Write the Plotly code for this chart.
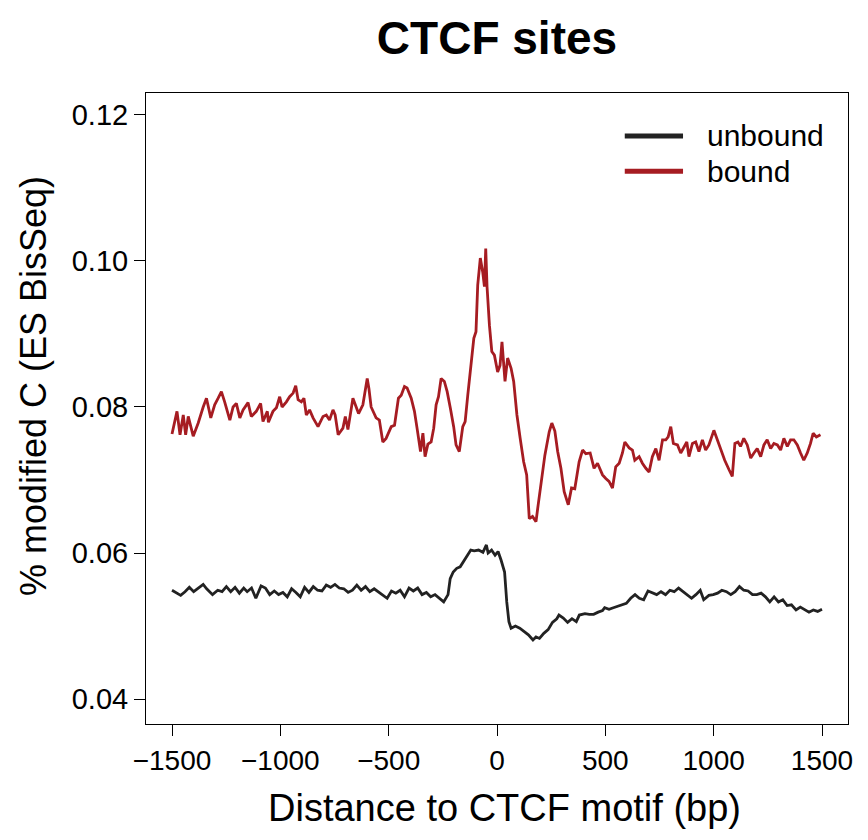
import plotly.graph_objects as go

# ---- data ----
bound_x = [-1500, -1477, -1463, -1448, -1437, -1425, -1402, -1379, -1356, -1341, -1321, -1303, -1287, -1272,
           -1257, -1233, -1218, -1203, -1187, -1172, -1149, -1134, -1111, -1091, -1080, -1060, -1055, -1034,
           -1018, -1003, -992, -972, -957, -941, -929, -918, -903, -891, -880, -865, -849, -826, -803, -788,
           -773, -757, -747, -733, -711, -700, -688, -665, -650, -639, -619, -599, -591, -581, -558, -543,
           -527, -512, -488, -473, -455, -442, -427, -415, -396, -381, -369, -353, -342, -332, -319, -304,
           -292, -281, -270, -258, -243, -230, -215, -200, -189, -174, -158, -147, -135, -123, -107, -97,
           -89, -77, -66, -58, -52, -46, -35, -24, -12, 3, 14, 23, 37, 49, 65, 77, 92, 107, 123, 137, 149,
           164, 180, 190, 206, 221, 241, 253, 267, 280, 295, 310, 329, 344, 359, 379, 395, 410, 430, 448,
           464, 487, 502, 517, 533, 548, 564, 579, 590, 610, 625, 636, 656, 671, 687, 702, 717, 733, 748,
           764, 779, 790, 802, 814, 833, 848, 876, 886, 902, 917, 932, 948, 963, 978, 1001, 1017, 1032,
           1051, 1071, 1086, 1098, 1112, 1124, 1139, 1155, 1171, 1186, 1201, 1217, 1232, 1247, 1263, 1278,
           1294, 1309, 1324, 1340, 1355, 1370, 1386, 1401, 1416, 1432, 1447, 1459, 1474, 1493]
bound_y = [0.0763, 0.0794, 0.0762, 0.0789, 0.0762, 0.0787, 0.0760, 0.0778, 0.0800, 0.0812, 0.0785, 0.0803,
           0.0812, 0.0821, 0.0807, 0.0782, 0.0800, 0.0805, 0.0785, 0.0796, 0.0806, 0.0787, 0.0794, 0.0805,
           0.0780, 0.0794, 0.0779, 0.0794, 0.0799, 0.0814, 0.0800, 0.0807, 0.0814, 0.0819, 0.0829, 0.0810,
           0.0807, 0.0812, 0.0789, 0.0796, 0.0785, 0.0773, 0.0787, 0.0789, 0.0782, 0.0796, 0.0789, 0.0762,
           0.0771, 0.0787, 0.0769, 0.0812, 0.0800, 0.0791, 0.0803, 0.0839, 0.0825, 0.0800, 0.0785, 0.0782,
           0.0752, 0.0757, 0.0773, 0.0775, 0.0812, 0.0816, 0.0828, 0.0826, 0.0812, 0.0794, 0.0771, 0.0739,
           0.0764, 0.0732, 0.0749, 0.0752, 0.0771, 0.0803, 0.0814, 0.0839, 0.0835, 0.0821, 0.0798, 0.0773,
           0.0748, 0.0739, 0.0773, 0.0780, 0.0816, 0.0848, 0.0894, 0.0903, 0.0967, 0.1004, 0.0985, 0.0965,
           0.1017, 0.0965, 0.0912, 0.0876, 0.0871, 0.0848, 0.0857, 0.0889, 0.0835, 0.0867, 0.0853, 0.0835,
           0.0789, 0.0757, 0.0725, 0.0707, 0.0647, 0.0650, 0.0643, 0.0666, 0.0698, 0.0734, 0.0766, 0.0778,
           0.0767, 0.0739, 0.0716, 0.0684, 0.0666, 0.0689, 0.0688, 0.0725, 0.0741, 0.0736, 0.0737, 0.0716,
           0.0723, 0.0707, 0.0702, 0.0698, 0.0689, 0.0718, 0.0723, 0.0737, 0.0752, 0.0744, 0.0741, 0.0727,
           0.0732, 0.0723, 0.0716, 0.0711, 0.0732, 0.0743, 0.0727, 0.0755, 0.0755, 0.0759, 0.0773, 0.0750,
           0.0748, 0.0737, 0.0752, 0.0732, 0.0750, 0.0752, 0.0739, 0.0755, 0.0741, 0.0748, 0.0768, 0.0755,
           0.0741, 0.0727, 0.0714, 0.0705, 0.0750, 0.0752, 0.0746, 0.0757, 0.0748, 0.0730, 0.0737, 0.0743,
           0.0732, 0.0748, 0.0755, 0.0743, 0.0750, 0.0748, 0.0741, 0.0757, 0.0746, 0.0755, 0.0755, 0.0748,
           0.0737, 0.0727, 0.0737, 0.0750, 0.0764, 0.0759, 0.0762]

unbound_x = [-1500, -1480, -1460, -1440, -1420, -1400, -1380, -1356, -1340, -1313, -1289, -1269, -1249, -1229,
             -1209, -1189, -1169, -1153, -1133, -1113, -1089, -1069, -1049, -1028, -1008, -988, -968, -948,
             -928, -908, -888, -868, -848, -828, -808, -788, -768, -748, -728, -707, -687, -667, -647, -627,
             -607, -587, -567, -547, -527, -507, -487, -467, -447, -427, -406, -386, -366, -346, -326, -306,
             -286, -266, -246, -226, -216, -202, -186, -170, -156, -136, -121, -105, -85, -65, -49, -41, -25,
             -9, 5, 19, 35, 45, 55, 65, 85, 105, 125, 145, 166, 180, 196, 216, 236, 256, 276, 286, 306, 326,
             346, 366, 380, 406, 426, 446, 467, 487, 497, 517, 537, 557, 577, 597, 617, 637, 657, 677, 697,
             717, 737, 757, 778, 798, 818, 838, 858, 878, 898, 918, 938, 954, 978, 998, 1018, 1038, 1059,
             1079, 1099, 1119, 1139, 1159, 1179, 1199, 1219, 1239, 1259, 1279, 1299, 1319, 1339, 1359, 1380,
             1400, 1420, 1440, 1460, 1480, 1500]
unbound_y = [0.0549, 0.0546, 0.0542, 0.0547, 0.0553, 0.0547, 0.0552, 0.0557, 0.0551, 0.0543, 0.0549, 0.0547,
             0.0554, 0.0547, 0.0553, 0.0545, 0.0552, 0.0547, 0.0552, 0.0538, 0.0555, 0.0552, 0.0543, 0.0548,
             0.0543, 0.0546, 0.0540, 0.0551, 0.0546, 0.0540, 0.0553, 0.0546, 0.0554, 0.0549, 0.0548, 0.0556,
             0.0553, 0.0557, 0.0552, 0.0551, 0.0546, 0.0549, 0.0556, 0.0549, 0.0554, 0.0547, 0.0551, 0.0547,
             0.0543, 0.0538, 0.0548, 0.0545, 0.0549, 0.0540, 0.0552, 0.0548, 0.0552, 0.0543, 0.0546, 0.0540,
             0.0543, 0.0538, 0.0533, 0.0543, 0.0565, 0.0574, 0.0579, 0.0581, 0.0588, 0.0597, 0.0604, 0.0603,
             0.0604, 0.0601, 0.0611, 0.0600, 0.0604, 0.0597, 0.0602, 0.0590, 0.0574, 0.0533, 0.0506, 0.0497,
             0.0500, 0.0497, 0.0492, 0.0488, 0.0481, 0.0485, 0.0483, 0.0490, 0.0495, 0.0505, 0.0510, 0.0515,
             0.0511, 0.0505, 0.0510, 0.0506, 0.0515, 0.0517, 0.0516, 0.0516, 0.0519, 0.0521, 0.0525, 0.0523,
             0.0525, 0.0527, 0.0528, 0.0531, 0.0538, 0.0543, 0.0538, 0.0536, 0.0548, 0.0545, 0.0543, 0.0547,
             0.0543, 0.0549, 0.0547, 0.0552, 0.0547, 0.0543, 0.0538, 0.0543, 0.0549, 0.0536, 0.0542, 0.0543,
             0.0545, 0.0549, 0.0547, 0.0543, 0.0547, 0.0554, 0.0549, 0.0548, 0.0543, 0.0543, 0.0545, 0.0540,
             0.0533, 0.0540, 0.0533, 0.0536, 0.0528, 0.0529, 0.0522, 0.0526, 0.0522, 0.0519, 0.0522, 0.0520,
             0.0523]

x_ticks = [-1500, -1000, -500, 0, 500, 1000, 1500]
y_ticks = [0.04, 0.06, 0.08, 0.10, 0.12]
series_names = ["unbound", "bound"]
colors = {"unbound": "#222222", "bound": "#A61C22"}

FONT = "Liberation Sans, Arial, sans-serif"

fig = go.Figure()
fig.add_trace(go.Scatter(x=unbound_x, y=unbound_y, mode="lines", name="unbound",
                         line=dict(color=colors["unbound"], width=2.8), showlegend=False))
fig.add_trace(go.Scatter(x=bound_x, y=bound_y, mode="lines", name="bound",
                         line=dict(color=colors["bound"], width=2.8), showlegend=False))

# manual legend (R-style)
legend_y = [0.932, 0.876]
for name, ly in zip(series_names, legend_y):
    fig.add_shape(type="line", xref="paper", yref="paper", x0=0.682, x1=0.765, y0=ly, y1=ly,
                  line=dict(color=colors[name], width=5))
    fig.add_annotation(xref="paper", yref="paper", x=0.796, y=ly, text=name, showarrow=False,
                       xanchor="left", yanchor="middle", font=dict(family=FONT, size=30, color="black"))

# axis titles
fig.add_annotation(xref="paper", yref="paper", x=0.51, y=-0.133, text="Distance to CTCF motif (bp)",
                   showarrow=False, xanchor="center", yanchor="middle",
                   font=dict(family=FONT, size=38, color="black"))
fig.add_annotation(xref="paper", yref="paper", x=-0.16, y=0.535, text="% modified C (ES BisSeq)",
                   showarrow=False, xanchor="center", yanchor="middle", textangle=-90,
                   font=dict(family=FONT, size=36, color="black"))

fig.update_layout(
    width=868, height=840,
    margin=dict(l=146, r=20, t=93, b=116),
    paper_bgcolor="white", plot_bgcolor="white",
    title=dict(text="<b>CTCF sites</b>", x=0.5, xref="paper", y=1 - 38 / 840, yref="container",
               xanchor="center", yanchor="middle", font=dict(family=FONT, size=46, color="black")),
    font=dict(family=FONT, color="black"),
    xaxis=dict(range=[-1620, 1620], tickvals=x_ticks, ticks="outside", ticklen=11, tickwidth=1,
               tickcolor="black", showline=True, linecolor="black", linewidth=1, mirror=True,
               showgrid=False, zeroline=False, tickfont=dict(family=FONT, size=28, color="black")),
    yaxis=dict(range=[0.03658, 0.1230], tickvals=y_ticks, tickformat=".2f", ticks="outside",
               ticklen=11, tickwidth=1, tickcolor="black", showline=True, linecolor="black",
               linewidth=1, mirror=True, showgrid=False, zeroline=False,
               tickfont=dict(family=FONT, size=29, color="black")),
)

fig.write_html("out.html")
